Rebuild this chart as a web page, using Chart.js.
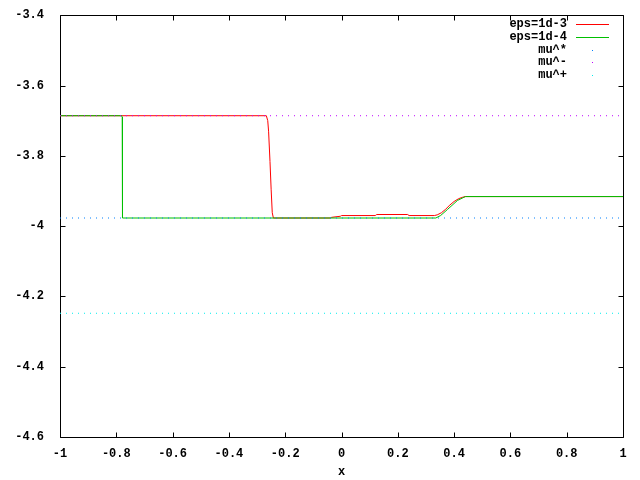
<!DOCTYPE html>
<html>
<head>
<meta charset="utf-8">
<script src="https://cdn.jsdelivr.net/npm/chart.js@4/dist/chart.umd.min.js"></script>
<style>
html,body{margin:0;padding:0;background:#fff;}
#wrap{width:640px;height:480px;}
</style>
</head>
<body>
<div id="wrap"><canvas id="c" width="640" height="480"></canvas></div>
<script>
// ---- data ----
const seriesLabels = ["eps=1d-3", "eps=1d-4", "mu^*", "mu^-", "mu^+"];
const redX = [-1, -0.267, -0.262, -0.259, -0.254, -0.250, -0.246, -0.242, -0.04, -0.035, -0.004, 0.0, 0.12, 0.125, 0.235, 0.24, 0.33, 0.34, 0.355, 0.37, 0.385, 0.40, 0.416, 0.43, 0.44, 1];
const redY = [-3.686, -3.686, -3.70, -3.73, -3.816, -3.895, -3.962, -3.977, -3.977, -3.975, -3.972, -3.970, -3.970, -3.967, -3.967, -3.970, -3.970, -3.968, -3.962, -3.952, -3.940, -3.930, -3.922, -3.918, -3.916, -3.916];
const greenX = [-1, -0.781, -0.779, -0.778, 0.335, 0.352, 0.376, 0.412, 0.435, 0.441, 1];
const greenY = [-3.686, -3.686, -3.69, -3.977, -3.977, -3.970, -3.953, -3.927, -3.918, -3.916, -3.916];
const muStar = -3.977;
const muMinus = -3.686;
const muPlus = -4.248;
const xTicks = [-1, -0.8, -0.6, -0.4, -0.2, 0, 0.2, 0.4, 0.6, 0.8, 1];
const yTicks = [-3.4, -3.6, -3.8, -4, -4.2, -4.4, -4.6];
const xTitle = "x";

// ---- build ----
const pts = (xs, ys) => xs.map((x, i) => ({x: x, y: ys[i]}));
const hline = v => [{x: -1, y: v}, {x: 1, y: v}];
const colors = ["#ff0000", "#00c000", "#0080ff", "#c000ff", "#00eeee"];
const FONT = {family: "'Liberation Mono', 'DejaVu Sans Mono', monospace", size: 12, weight: "bold"};

const datasets = [
  {label: seriesLabels[0], data: pts(redX, redY), borderColor: colors[0], order: 2},
  {label: seriesLabels[1], data: pts(greenX, greenY), borderColor: colors[1], order: 1},
  {label: seriesLabels[2], data: hline(muStar), borderColor: colors[2], borderDash: [1, 5], order: 0},
  {label: seriesLabels[3], data: hline(muMinus), borderColor: colors[3], borderDash: [1, 5], order: 0},
  {label: seriesLabels[4], data: hline(muPlus), borderColor: colors[4], borderDash: [1, 5], order: 0}
].map(d => Object.assign({borderWidth: 1, pointRadius: 0, tension: 0, fill: false}, d));

const framePlugin = {
  id: "frame",
  beforeDatasetsDraw(chart) {
    const ctx = chart.ctx, a = chart.chartArea;
    const xs = chart.scales.x, ys = chart.scales.y;
    ctx.save();
    ctx.strokeStyle = "#000";
    ctx.lineWidth = 1;
    const L = Math.round(a.left) + 0.5, R = Math.round(a.right) + 0.5;
    const T = Math.round(a.top) + 0.5, B = Math.round(a.bottom) + 0.5;
    ctx.beginPath();
    ctx.rect(L, T, R - L, B - T);
    const tl = 5;
    xTicks.forEach(v => {
      const px = Math.round(xs.getPixelForValue(v)) + 0.5;
      ctx.moveTo(px, B); ctx.lineTo(px, B - tl);
      ctx.moveTo(px, T); ctx.lineTo(px, T + tl);
    });
    yTicks.forEach(v => {
      const py = Math.round(ys.getPixelForValue(v)) + 0.5;
      ctx.moveTo(L, py); ctx.lineTo(L + tl, py);
      ctx.moveTo(R, py); ctx.lineTo(R - tl, py);
    });
    ctx.stroke();
    ctx.restore();
  },
  afterDraw(chart) {
    const ctx = chart.ctx;
    ctx.save();
    ctx.font = "bold 12px 'Liberation Mono', 'DejaVu Sans Mono', monospace";
    ctx.fillStyle = "#000";
    ctx.textAlign = "right";
    ctx.textBaseline = "middle";
    chart.data.datasets.forEach((d, i) => {
      const y = 24 + i * 12.8;
      ctx.fillStyle = "#000";
      ctx.fillText(d.label, 567, y);
      if (d.borderDash) {
        ctx.fillStyle = d.borderColor;
        ctx.fillRect(592, Math.round(y), 1, 1);
      } else {
        ctx.strokeStyle = d.borderColor;
        ctx.lineWidth = 1;
        ctx.beginPath();
        ctx.moveTo(576, Math.round(y) + 0.5);
        ctx.lineTo(609, Math.round(y) + 0.5);
        ctx.stroke();
      }
    });
    ctx.restore();
  }
};

new Chart(document.getElementById("c"), {
  type: "line",
  data: {datasets: datasets},
  options: {
    responsive: false,
    animation: false,
    layout: {padding: {top: 13, right: 17, left: 0, bottom: 0}},
    plugins: {legend: {display: false}, tooltip: {enabled: false}},
    scales: {
      x: {
        type: "linear", min: -1, max: 1,
        grid: {display: false}, border: {display: false},
        afterBuildTicks: s => { s.ticks = xTicks.map(v => ({value: v})); },
        afterFit: s => { s.height = 43; },
        ticks: {color: "#000", font: FONT, padding: 2, maxRotation: 0, autoSkip: false,
                callback: v => String(Math.round(v * 10) / 10)},
        title: {display: true, text: xTitle, color: "#000", font: FONT, padding: {top: 0, bottom: 1}}
      },
      y: {
        type: "linear", min: -4.6, max: -3.4,
        grid: {display: false}, border: {display: false},
        afterBuildTicks: s => { s.ticks = yTicks.map(v => ({value: v})); },
        afterFit: s => { s.width = 60; },
        ticks: {color: "#000", font: FONT, padding: 8, autoSkip: false,
                callback: v => String(Math.round(v * 10) / 10)}
      }
    }
  },
  plugins: [framePlugin]
});
</script>
</body>
</html>
